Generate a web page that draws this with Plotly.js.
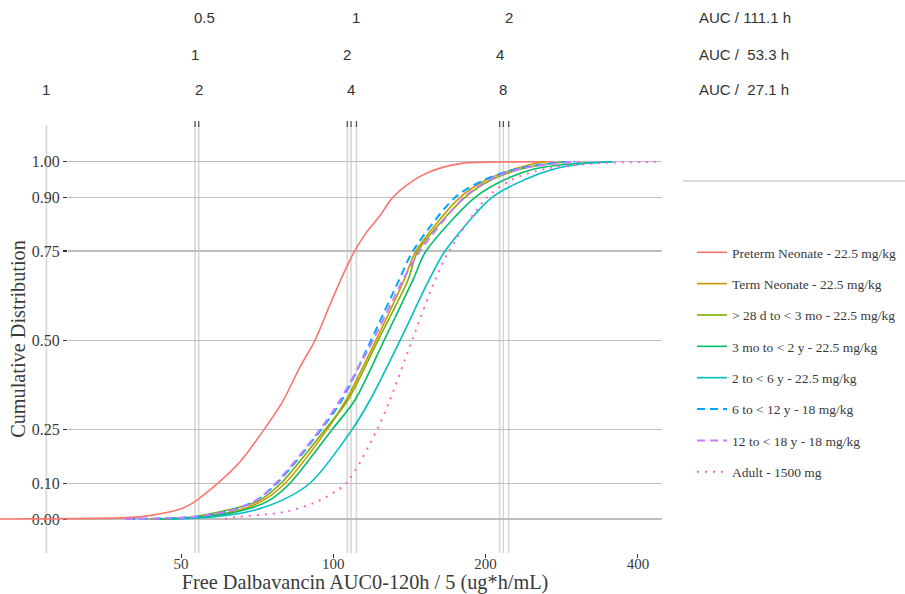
<!DOCTYPE html>
<html>
<head>
<meta charset="utf-8">
<script src="https://cdn.plot.ly/plotly-3.0.1.min.js"></script>
<style>html,body{margin:0;padding:0;background:#fff}#chart{width:905px;height:594px}</style>
</head>
<body>
<div id="chart"></div>
<script>
// ---------------- DATA ----------------
const seriesNames = [
  'Preterm Neonate - 22.5 mg/kg',
  'Term Neonate - 22.5 mg/kg',
  '&gt; 28 d to &lt; 3 mo - 22.5 mg/kg',
  '3 mo to &lt; 2 y - 22.5 mg/kg',
  '2 to &lt; 6 y - 22.5 mg/kg',
  '6 to &lt; 12 y - 18 mg/kg',
  '12 to &lt; 18 y - 18 mg/kg',
  'Adult - 1500 mg'
];
// Preterm neonate curve (AUC value, cumulative fraction)
const pretermAUC = [21.9, 37.9, 41.5, 46.9, 50.5, 52.8, 54.5, 59.7, 65.4, 72.6, 79.5, 85.9, 92.0, 98.5, 104.0, 109.9, 116.0, 123.1, 130.7, 139.9, 150.4, 162.5, 180.5, 210.7, 271.8];
const pretermCDF = [0, 0.003, 0.006, 0.018, 0.031, 0.045, 0.059, 0.105, 0.16, 0.246, 0.33, 0.425, 0.50, 0.60, 0.677, 0.747, 0.80, 0.845, 0.898, 0.935, 0.963, 0.982, 0.996, 0.999, 1.0];
// Other groups: AUC at shared cumulative levels
const cdfLevels   = [0, 0.005, 0.02, 0.05, 0.1, 0.25, 0.333, 0.5, 0.669, 0.75, 0.9, 0.95, 0.98, 0.995, 1];
const termAUC     = [43.4, 53.3, 63.1, 72.3, 80.3, 97.2, 106.0, 121.4, 138.0, 145.7, 178.0, 201.3, 228.6, 250.4, 262.1];
const infantAUC   = [43.4, 52.1, 59.7, 71.0, 78.8, 96.3, 106.9, 122.6, 140.5, 147.0, 182.1, 205.9, 236.0, 268.1, 287.1];
const toddlerAUC  = [45.4, 54.5, 64.5, 74.3, 82.1, 99.4, 110.4, 126.0, 143.7, 152.5, 190.6, 218.5, 250.4, 300.4, 357.1];
const childAUC    = [47.6, 57.1, 67.8, 78.5, 89.9, 108.9, 118.2, 135.5, 154.6, 166.3, 205.9, 239.3, 274.3, 314.4, 357.1];
const schoolAUC   = [39.1, 52.1, 61.1, 70.0, 77.4, 94.6, 104.0, 118.7, 134.9, 143.7, 174.0, 199.5, 230.7, 268.1, 300.4];
const teenAUC     = [38.8, 52.1, 61.1, 70.0, 77.0, 94.1, 103.1, 119.8, 137.3, 148.4, 181.3, 204.0, 233.9, 274.3, 307.3];
const adultAUC    = [61.1, 63.9, 80.3, 93.3, 106.0, 122.0, 129.4, 143.1, 158.9, 169.3, 201.3, 225.5, 262.1, 329.1, 442.3];

const yTickVals = [0, 0.1, 0.25, 0.5, 0.75, 0.9, 1];
const yTickText = ['0.00', '0.10', '0.25', '0.50', '0.75', '0.90', '1.00'];
const xTickVals = [50, 100, 200, 400];
const xTickText = ['50', '100', '200', '400'];

// Reference AUC thresholds and multiples shown on top
const aucRefs = [111.1, 53.3, 27.1];
const aucRefLabels = ['AUC / 111.1 h', 'AUC /\u00a0\u00a053.3 h', 'AUC /\u00a0\u00a027.1 h'];
const multiples = [[0.5, 1, 2], [1, 2, 4], [1, 2, 4, 8]];

// ---------------- STYLE ----------------
const W = 905, H = 594;
const colors = ['#F8766D', '#CD9600', '#7CAE00', '#00BE67', '#00BFC4', '#00A9FF', '#C77CFF', '#FF61CC'];
const dashes = ['solid', 'solid', 'solid', 'solid', 'solid', '8px,5px', '8px,5px', '2px,6px'];
const widths = [1.6, 1.6, 1.6, 1.6, 1.6, 2, 2, 2];
const serif = 'Liberation Serif, Times New Roman, serif';
const sans = 'Liberation Sans, Arial, sans-serif';
const textCol = '#3a3a3a';

const px = v => v / W;
const py = v => 1 - v / H;

const xs = [pretermAUC, termAUC, infantAUC, toddlerAUC, childAUC, schoolAUC, teenAUC, adultAUC];
const ys = [pretermCDF, cdfLevels, cdfLevels, cdfLevels, cdfLevels, cdfLevels, cdfLevels, cdfLevels];

const traces = seriesNames.map((n, i) => ({
  type: 'scatter', mode: 'lines', name: n,
  x: xs[i], y: ys[i], xaxis: 'x2', yaxis: 'y2',
  legendgroup: 'g' + i,
  line: {color: colors[i], width: widths[i], dash: dashes[i], shape: 'spline', smoothing: 0.8},
  hoverinfo: 'skip'
}));
// invisible anchor trace so the styled axes subplot is drawn
traces.unshift({type: 'scatter', mode: 'markers', x: [xTickVals[0]], y: [yTickVals[0]],
  xaxis: 'x', yaxis: 'y', marker: {opacity: 0, size: 1}, showlegend: false, hoverinfo: 'skip'});

// axis geometry (pixels)
const panelL = 68, panelR = 662, panelT = 125, panelB = 553;
const yRange = [-0.0952, 1.1027];
const log50 = Math.log10(50), perPx = Math.log10(2) / 152.3, px50 = 181;
const xRangeA = [log50 + (panelL - px50) * perPx, log50 + (panelR - px50) * perPx];
const xRangeB = [log50 + (0 - px50) * perPx, xRangeA[1]];

const shapes = [];
const annotations = [];
// vertical reference lines
aucRefs.forEach((a, r) => {
  multiples[r].filter(m => m >= 1).forEach(m => {
    const v = a * m;
    shapes.push({type: 'line', xref: 'x2', yref: 'paper', x0: v, x1: v,
      y0: py(panelB), y1: py(panelT), line: {color: '#d6d6d6', width: 1.6}, layer: 'below'});
    if (Math.log10(v) >= xRangeA[0]) {
      shapes.push({type: 'line', xref: 'x2', yref: 'paper', x0: v, x1: v,
        y0: py(127), y1: py(121), line: {color: '#555', width: 1.3}, layer: 'above'});
    }
  });
  const rowY = [18, 54, 90][r];
  multiples[r].forEach(m => {
    annotations.push({xref: 'x2', yref: 'paper', x: Math.log10(a * m), y: py(rowY),
      text: String(m), showarrow: false, xanchor: 'center', yanchor: 'middle',
      font: {family: sans, size: 15, color: '#333'}});
  });
  annotations.push({xref: 'paper', yref: 'paper', x: px(697), y: py(rowY), text: aucRefLabels[r],
    showarrow: false, xanchor: 'left', yanchor: 'middle', font: {family: sans, size: 15, color: '#333'}});
});
// separator line at right
shapes.push({type: 'line', xref: 'paper', yref: 'paper', x0: px(683), x1: 1, y0: py(181), y1: py(181),
  line: {color: '#b5b5b5', width: 1}});

const layout = {
  width: W, height: H,
  margin: {l: 0, r: 0, t: 0, b: 0},
  paper_bgcolor: '#fff', plot_bgcolor: 'rgba(0,0,0,0)',
  showlegend: true,
  font: {family: serif, color: textCol},
  xaxis: {
    visible: true, type: 'log', domain: [px(panelL), px(panelR)], range: xRangeA, anchor: 'y',
    tickmode: 'array', tickvals: xTickVals, ticktext: xTickText,
    showgrid: false, zeroline: false, showline: false,
    ticks: 'outside', ticklen: 4, tickwidth: 1, tickcolor: '#333',
    ticklabelstandoff: -7,
    tickfont: {family: serif, size: 15, color: textCol},
    title: {text: 'Free Dalbavancin AUC0-120h / 5 (ug*h/mL)', font: {family: serif, size: 20.3, color: textCol}, standoff: 4},
    automargin: false, fixedrange: true
  },
  yaxis: {
    visible: true, domain: [py(panelB), py(panelT)], range: yRange, anchor: 'x',
    tickmode: 'array', tickvals: yTickVals, ticktext: yTickText,
    showgrid: true, gridcolor: '#bdbdbd', gridwidth: 1.2, zeroline: false, showline: false,
    ticks: 'outside', ticklen: 4, tickwidth: 1.5, tickcolor: '#333',
    tickfont: {family: serif, size: 16, color: textCol},
    title: {text: 'Cumulative Distribution', font: {family: serif, size: 20.3, color: textCol}, standoff: 0},
    automargin: false, fixedrange: true
  },
  xaxis2: {type: 'log', domain: [0, px(panelR)], range: xRangeB, anchor: 'y2', visible: false, fixedrange: true},
  yaxis2: {domain: [py(panelB), py(panelT)], range: yRange, anchor: 'x2', visible: false, fixedrange: true},
  legend: {
    x: px(692), y: py(237), xanchor: 'left', yanchor: 'top',
    font: {family: serif, size: 13.5, color: textCol},
    tracegroupgap: 10.8, bgcolor: 'rgba(0,0,0,0)', itemwidth: 30
  },
  shapes: shapes,
  annotations: annotations
};

Plotly.newPlot('chart', traces, layout, {displayModeBar: false, staticPlot: true});
</script>
</body>
</html>
